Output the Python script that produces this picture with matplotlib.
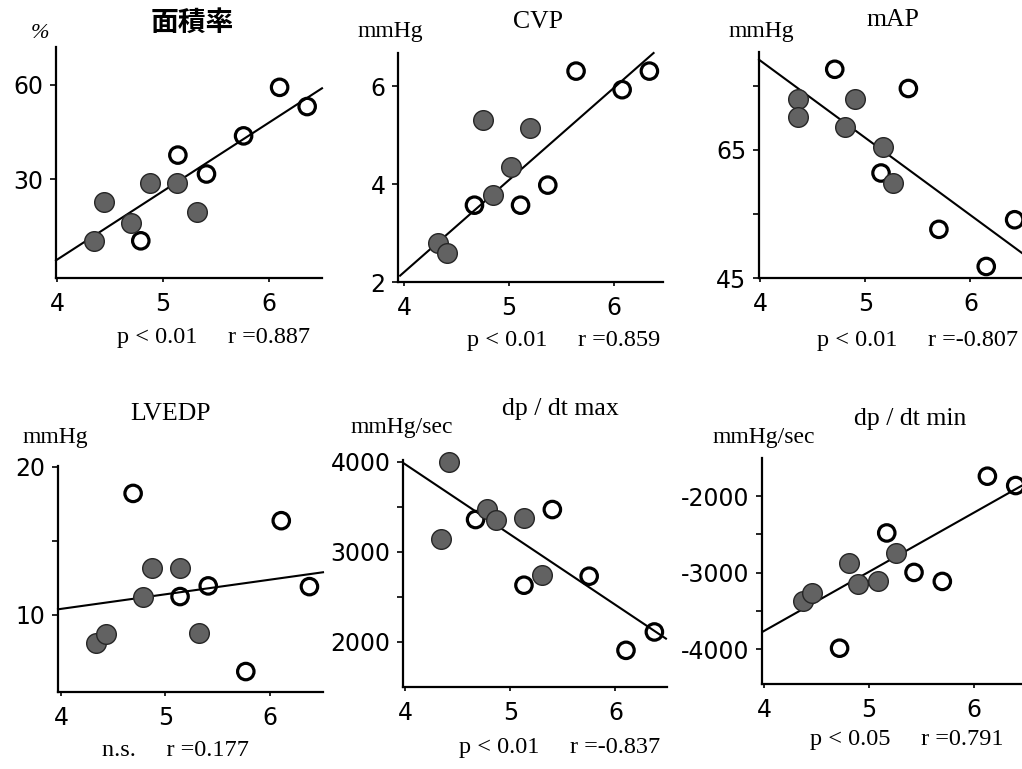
import matplotlib.pyplot as plt

plt.rcParams['font.family'] = ['DejaVu Sans', 'Noto Sans CJK JP']
SERIF = 'Liberation Serif'

# --- data (x axis shared: 4..6.5) ---
area_x_filled = [4.35, 4.44, 4.70, 4.88, 5.13, 5.32]
area_y_filled = [10.5, 22.9, 16.2, 28.7, 28.9, 19.8]
area_x_open = [4.79, 5.14, 5.41, 5.76, 6.10, 6.36]
area_y_open = [10.5, 37.7, 31.7, 43.8, 59.2, 53.1]
area_fit_x = [3.99, 6.50]
area_fit_y = [4.3, 58.9]

cvp_x_filled = [4.32, 4.41, 4.75, 4.85, 5.02, 5.20]
cvp_y_filled = [2.80, 2.60, 5.32, 3.77, 4.36, 5.14]
cvp_x_open = [4.67, 5.11, 5.37, 5.64, 6.08, 6.34]
cvp_y_open = [3.57, 3.57, 3.98, 6.31, 5.93, 6.31]
cvp_fit_x = [3.96, 6.38]
cvp_fit_y = [2.13, 6.68]

map_x_filled = [4.36, 4.36, 4.90, 4.81, 5.17, 5.26]
map_y_filled = [72.9, 70.1, 73.0, 68.6, 65.5, 59.8]
map_x_open = [4.71, 5.41, 5.15, 5.70, 6.15, 6.42]
map_y_open = [77.6, 74.6, 61.4, 52.6, 46.8, 54.1]
map_fit_x = [3.99, 6.49]
map_fit_y = [79.1, 48.9]

lvedp_x_filled = [4.33, 4.43, 4.78, 4.87, 5.14, 5.32]
lvedp_y_filled = [8.09, 8.72, 11.19, 13.15, 13.15, 8.76]
lvedp_x_open = [4.69, 5.14, 5.41, 5.77, 6.11, 6.38]
lvedp_y_open = [18.2, 11.24, 11.96, 6.18, 16.36, 11.91]
lvedp_fit_x = [3.97, 6.51]
lvedp_fit_y = [10.38, 12.88]

dpmax_x_filled = [4.42, 4.34, 4.78, 4.86, 5.13, 5.30]
dpmax_y_filled = [4000, 3148, 3481, 3359, 3378, 2741]
dpmax_x_open = [4.67, 5.40, 5.13, 5.75, 6.10, 6.37]
dpmax_y_open = [3359, 3470, 2630, 2730, 1907, 2111]
dpmax_fit_x = [3.99, 6.48]
dpmax_fit_y = [3981, 2037]

dpmin_x_filled = [4.37, 4.46, 4.81, 4.90, 5.09, 5.26]
dpmin_y_filled = [-3376, -3266, -2873, -3144, -3114, -2742]
dpmin_x_open = [4.72, 5.17, 5.43, 5.70, 6.13, 6.40]
dpmin_y_open = [-3987, -2480, -2996, -3114, -1738, -1860]
dpmin_fit_x = [3.99, 6.46]
dpmin_fit_y = [-3769, -1860]

titles = ['面積率', 'CVP', 'mAP', 'LVEDP', 'dp / dt max', 'dp / dt min']
units = ['%', 'mmHg', 'mmHg', 'mmHg', 'mmHg/sec', 'mmHg/sec']
stats = [('p < 0.01', 'r =0.887'), ('p < 0.01', 'r =0.859'), ('p < 0.01', 'r =-0.807'),
         ('n.s.', 'r =0.177'), ('p < 0.01', 'r =-0.837'), ('p < 0.05', 'r =0.791')]
yticks = [[30, 60], [2, 4, 6], [45, 55, 65, 75], [10, 15, 20],
          [2000, 2500, 3000, 3500, 4000], [-4000, -3500, -3000, -2500, -2000]]
ytick_labels = [['30', '60'], ['2', '4', '6'], ['45', '', '65', ''], ['10', '', '20'],
                ['2000', '', '3000', '', '4000'], ['-4000', '', '-3000', '', '-2000']]
xticks = [4, 5, 6]

panels = [
    (area_x_filled, area_y_filled, area_x_open, area_y_open, area_fit_x, area_fit_y),
    (cvp_x_filled, cvp_y_filled, cvp_x_open, cvp_y_open, cvp_fit_x, cvp_fit_y),
    (map_x_filled, map_y_filled, map_x_open, map_y_open, map_fit_x, map_fit_y),
    (lvedp_x_filled, lvedp_y_filled, lvedp_x_open, lvedp_y_open, lvedp_fit_x, lvedp_fit_y),
    (dpmax_x_filled, dpmax_y_filled, dpmax_x_open, dpmax_y_open, dpmax_fit_x, dpmax_fit_y),
    (dpmin_x_filled, dpmin_y_filled, dpmin_x_open, dpmin_y_open, dpmin_fit_x, dpmin_fit_y),
]

# --- layout (pixels: left, top, right, bottom), limits and text positions ---
W, H = 1022, 769
boxes = [(56, 47, 322, 278), (398, 53, 663, 282), (759, 52, 1022, 278),
         (58, 466, 323, 692), (403, 460, 667, 687), (762, 458, 1022, 684)]
xlims = [(3.99, 6.50), (3.94, 6.47), (3.99, 6.49), (3.97, 6.51), (3.98, 6.49), (3.98, 6.46)]
ylims = [(-1.3, 72), (2, 6.68), (45, 80.3), (4.8, 20.05), (1500, 4020), (-4455, -1500)]
title_pos = [(192, 23), (538, 22), (893, 20), (171, 414), (560, 409), (910, 419)]
unit_pos = [(40, 34), (390, 31), (761, 31), (55, 437), (402, 427), (764, 437)]
stats_pos = [(214, 338), (564, 340), (918, 340), (175, 750), (560, 747), (907, 740)]

fig = plt.figure(figsize=(W / 100, H / 100), dpi=100)

for i, (xf, yf, xo, yo, fx, fy) in enumerate(panels):
    l, t, r, b = boxes[i]
    ax = fig.add_axes([l / W, 1 - b / H, (r - l) / W, (b - t) / H])
    ax.plot(fx, fy, color='black', lw=1.5, zorder=2, clip_on=False)
    ax.scatter(xo, yo, s=140, facecolor='none', edgecolor='black', lw=2.3,
               zorder=3, clip_on=False)
    ax.scatter(xf, yf, s=200, facecolor='#626262', edgecolor='#262626', lw=1.0,
               zorder=4, clip_on=False)
    ax.set_xlim(xlims[i])
    ax.set_ylim(ylims[i])
    ax.set_xticks(xticks)
    ax.set_xticklabels([str(v) for v in xticks])
    ax.set_yticks(yticks[i])
    ax.set_yticklabels(ytick_labels[i])
    ax.tick_params(axis='x', length=3, width=1.2, pad=7, labelsize=17)
    ax.tick_params(axis='y', length=4, width=1.2, pad=5, labelsize=17)
    for side in ['top', 'right']:
        ax.spines[side].set_visible(False)
    for side in ['left', 'bottom']:
        ax.spines[side].set_linewidth(1.6)
    ax.patch.set_alpha(0)

    tx, ty = title_pos[i]
    ux, uy = unit_pos[i]
    if i == 0:
        fig.text(tx / W, 1 - ty / H, titles[i], ha='center', va='center',
                 fontsize=20, fontweight='bold', family=['Noto Sans CJK JP'])
        fig.text(ux / W, 1 - uy / H, units[i], ha='center', va='center',
                 fontsize=16, style='italic', family=SERIF)
    else:
        fig.text(tx / W, 1 - ty / H, titles[i], ha='center', va='center',
                 fontsize=18.5, family=SERIF)
        fig.text(ux / W, 1 - uy / H, units[i], ha='center', va='center',
                 fontsize=17, family=SERIF)
    sx, sy = stats_pos[i]
    fig.text(sx / W, 1 - sy / H, stats[i][0] + '     ' + stats[i][1],
             ha='center', va='center', fontsize=17.5, family=SERIF)

fig.savefig('out.png', dpi=100, facecolor='white')
